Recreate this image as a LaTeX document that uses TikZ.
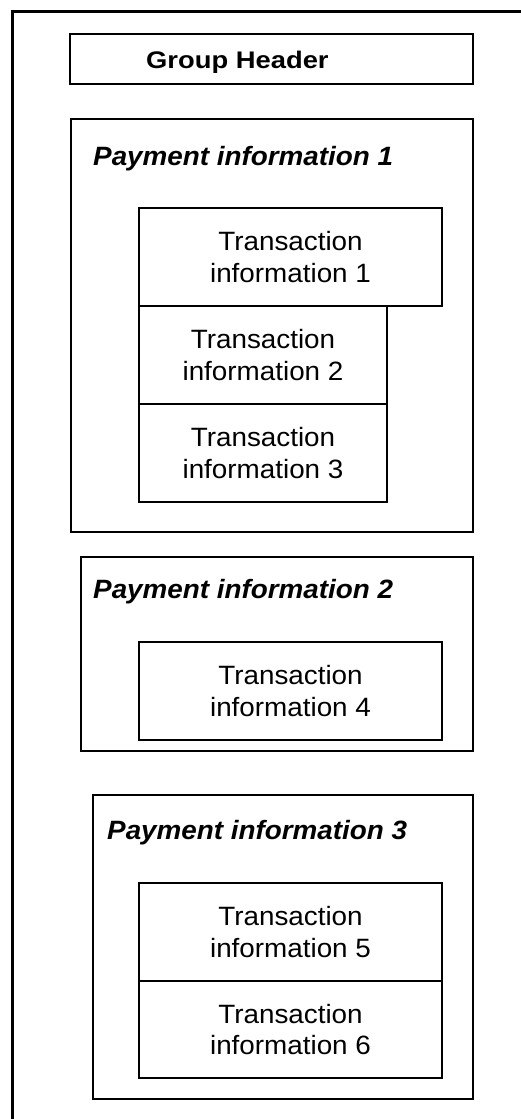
\documentclass[tikz,border=0pt]{standalone}
\usepackage{fontspec}
\setmainfont{Liberation Sans}[FakeStretch=1.05]
\newfontfamily\ghfont{Liberation Sans}[FakeStretch=1.14]
\begin{document}
\begin{tikzpicture}[x=1pt,y=-1pt,
  box/.style={draw=black, line width=2pt, rectangle, inner sep=0pt, outer sep=0pt, anchor=north west},
  tbox/.style={box, align=center, font=\fontsize{26.5}{31.5}\selectfont},
  ptext/.style={anchor=base west, inner sep=0pt, font=\fontsize{26.5}{31.5}\selectfont\bfseries\itshape},
  ghtext/.style={anchor=base west, inner sep=0pt, font=\ghfont\fontsize{24}{28}\selectfont\bfseries}]
\useasboundingbox (0,0) rectangle (521,1119);
% outer frame (cut by the page on the right and bottom)
\coordinate (ob) at (12.5,1130);
\coordinate (otl) at (12.5,11.5);
\coordinate (otr) at (530,11.5);
\draw[line width=3pt] (ob) -- (otl) -- (otr);
% group header
\node[box, minimum width=403pt, minimum height=50pt] (gh) at (70,34) {};
\node[ghtext] (ght) at (146,68) {Group Header};
% payment information 1
\node[box, minimum width=402pt, minimum height=413pt] (p1) at (71,119) {};
\node[ptext] (p1t) at (93,165) {Payment information 1};
\node[tbox, minimum width=303pt, minimum height=98pt] (t1) at (139,208) {Transaction\\information 1};
\node[tbox, minimum width=248pt, minimum height=98pt] (t2) at (139,306) {Transaction\\information 2};
\node[tbox, minimum width=248pt, minimum height=98pt] (t3) at (139,404) {Transaction\\information 3};
% payment information 2
\node[box, minimum width=392pt, minimum height=194pt] (p2) at (81,557) {};
\node[ptext] (p2t) at (93,598) {Payment information 2};
\node[tbox, minimum width=303pt, minimum height=98pt] (t4) at (139,642) {Transaction\\information 4};
% payment information 3
\node[box, minimum width=380pt, minimum height=304pt] (p3) at (93,795) {};
\node[ptext] (p3t) at (107,839) {Payment information 3};
\node[tbox, minimum width=303pt, minimum height=98pt] (t5) at (139,883) {Transaction\\information 5};
\node[tbox, minimum width=303pt, minimum height=97pt] (t6) at (139,981) {Transaction\\information 6};
\end{tikzpicture}
\end{document}
